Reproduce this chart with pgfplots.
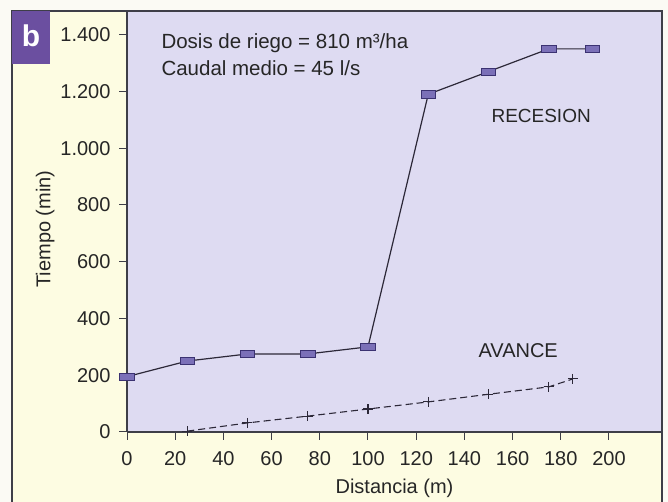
\documentclass[border=0pt]{standalone}
\usepackage{pgfplots}
\pgfplotsset{compat=1.18}
\usepackage{fontspec}
\setmainfont{Liberation Sans}
\definecolor{paper}{HTML}{FBFAF4}
\definecolor{cream}{HTML}{FDFCE2}
\definecolor{lav}{HTML}{DEDBF2}
\definecolor{mfill}{HTML}{7B70B8}
\definecolor{medge}{HTML}{3B3272}
\definecolor{bpurple}{HTML}{6B4FA0}
\definecolor{framec}{HTML}{3E3E48}
\definecolor{linec}{HTML}{2C2838}
\begin{document}
\begin{tikzpicture}[x=1pt,y=1pt]
\useasboundingbox (0,0) rectangle (668,502);
\fill[paper] (0,0) rectangle (668,502);
\fill[cream] (12,-10) rectangle (662,491);
\fill[lav] (127,70) rectangle (662,491);
\draw[framec, line width=1.2pt] (12,-10) -- (12,491) -- (662,491) -- (662,-10);
\fill[bpurple] (12,491) rectangle (50,438);
\node[white, font=\fontsize{30}{30}\selectfont\bfseries] at (31,466) {b};
\begin{axis}[
  at={(127pt,70pt)}, anchor=south west,
  scale only axis, width=535pt, height=420pt,
  xmin=0, xmax=222, ymin=0, ymax=1480,
  axis x line*=bottom, axis y line*=left,
  axis line style={line width=1.2pt, framec},
  xtick={0,20,...,200}, ytick={0,200,...,1400},
  tick align=outside, major tick length=8pt,
  tick style={framec, line width=1pt},
  /pgf/number format/assume math mode=true,
  /pgf/number format/1000 sep={.},
  ticklabel style={font=\fontsize{20}{20}\selectfont, text=black!85},
  xticklabel style={yshift=-8pt},
  yticklabel style={xshift=-5pt},
  label style={font=\fontsize{20}{20}\selectfont, text=black!85},
  xlabel={Distancia (m)}, ylabel={Tiempo (min)},
  xlabel style={at={(axis description cs:0.5,-0.1333)}, anchor=center},
  ylabel style={at={(axis description cs:-0.153,0.483)}, anchor=center},
  clip=false,
]
\addplot[linec, line width=1.2pt, mark=square*, mark size=3.6pt,
  mark options={xscale=2.0, fill=mfill, draw=medge, line width=0.7pt}]
  coordinates {(0,195)(25,250)(50,275)(75,275)(100,300)(125,1190)(150,1270)(175,1350)(193,1350)};
\addplot[linec, line width=1.1pt, dash pattern=on 7pt off 4pt, mark=+, mark size=5pt,
  mark options={solid, line width=1.1pt}]
  coordinates {(25,3)(50,32)(75,56)(100,81)(125,106)(150,133)(175,159)(185,187)};
\end{axis}
\node[anchor=west, font=\fontsize{20.5}{20.5}\selectfont, text=black!85] at (158,459) {Dosis de riego = 810 m³/ha};
\node[anchor=west, font=\fontsize{20.5}{20.5}\selectfont, text=black!85] at (158,434) {Caudal medio = 45 l/s};
\node[anchor=west, font=\fontsize{19}{19}\selectfont, text=black!85] at (488,386) {RECESION};
\node[anchor=west, font=\fontsize{20}{20}\selectfont, text=black!85] at (475,151) {AVANCE};
\end{tikzpicture}
\end{document}
